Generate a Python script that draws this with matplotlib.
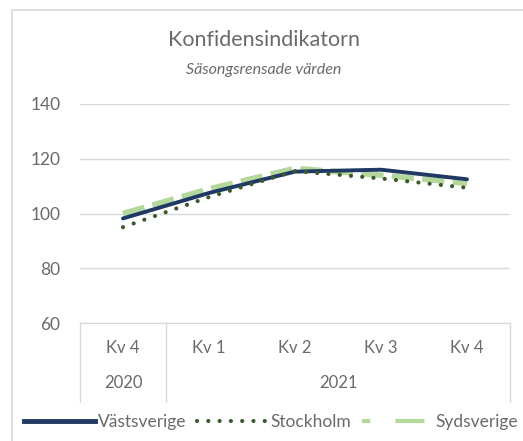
import matplotlib
matplotlib.use("Agg")
import matplotlib.pyplot as plt
from matplotlib.patches import Rectangle
from matplotlib.lines import Line2D

plt.rcParams['font.family'] = ['Lato', 'DejaVu Sans']

quarters = ["Kv 4", "Kv 1", "Kv 2", "Kv 3", "Kv 4"]
years = ["2020", "2021"]
year_span = [(0, 0), (1, 4)]
vastsverige = [98.2, 107.5, 115.3, 116.0, 112.5]
stockholm = [95.0, 106.0, 115.5, 112.8, 109.4]
sydsverige = [100.0, 109.0, 116.5, 114.0, 111.0]

navy = "#1f3864"
dkgreen = "#3a5a2e"
ltgreen = "#b4d89c"
grey = "#6a6a6a"

fig = plt.figure(figsize=(5.23, 4.41), dpi=100)
fig.patches.append(Rectangle((12/523, -0.1), 1.2, 1 - 10/441 + 0.1, transform=fig.transFigure,
                             fill=False, edgecolor="#d9d9d9", lw=1.2))
ax = fig.add_axes([80/523, 1 - 323/441, 430/523, 219/441])

x = list(range(len(quarters)))
ax.plot(x, sydsverige, color=ltgreen, lw=4, linestyle=(0, (4, 1.5)), solid_capstyle="butt", zorder=2)
ax.plot(x, vastsverige, color=navy, lw=2.8, solid_capstyle="round", zorder=3)
ax.plot(x, stockholm, color=dkgreen, lw=3, linestyle=(0, (0.01, 2.7)), dash_capstyle="round", zorder=4)

ax.set_xlim(-0.5, len(quarters) - 0.5)
ax.set_ylim(60, 140)
ax.set_yticks([60, 80, 100, 120, 140])
ax.tick_params(axis="y", length=0, labelsize=12.5, labelcolor=grey, pad=14)
ax.set_xticks([])
ax.grid(axis="y", color="#d9d9d9", lw=1)
for s in ["top", "right", "left"]:
    ax.spines[s].set_visible(False)
ax.spines["bottom"].set_color("#d9d9d9")
ax.set_axisbelow(True)

# multi-level category axis
tr = ax.get_xaxis_transform()
for i, q in enumerate(quarters):
    ax.text(i, -0.115, q, transform=tr, ha="center", va="center", fontsize=12, color=grey)
for (a, b), yr in zip(year_span, years):
    ax.text((a + b) / 2, -0.275, yr, transform=tr, ha="center", va="center", fontsize=12, color=grey)
for xs in [-0.5, 0.5, len(quarters) - 0.5]:
    ax.add_line(Line2D([xs, xs], [0, -0.36], transform=tr, color="#d9d9d9", lw=1, clip_on=False))

fig.text(0.505, 1 - 40/441, "Konfidensindikatorn", ha="center", va="center", fontsize=15.5, color=grey)
fig.text(0.505, 1 - 70/441, "Säsongsrensade värden", ha="center", va="center", fontsize=11.5,
         color=grey, style="italic")

handles = [
    Line2D([], [], color=navy, lw=3.5),
    Line2D([], [], color=dkgreen, lw=3, linestyle=(0, (0.01, 2.7)), dash_capstyle="round"),
    Line2D([], [], color=ltgreen, lw=3, linestyle=(5, (7, 6))),
]
fig.legend(handles, ["Västsverige", "Stockholm", "Sydsverige"], ncol=3, frameon=False,
           loc="center left", bbox_to_anchor=(24/523, 1 - 422/441), handlelength=4.1,
           handletextpad=0.15, columnspacing=0.6, fontsize=12.5, labelcolor=grey, borderaxespad=0,
           borderpad=0)

fig.savefig("out.png", dpi=100)
